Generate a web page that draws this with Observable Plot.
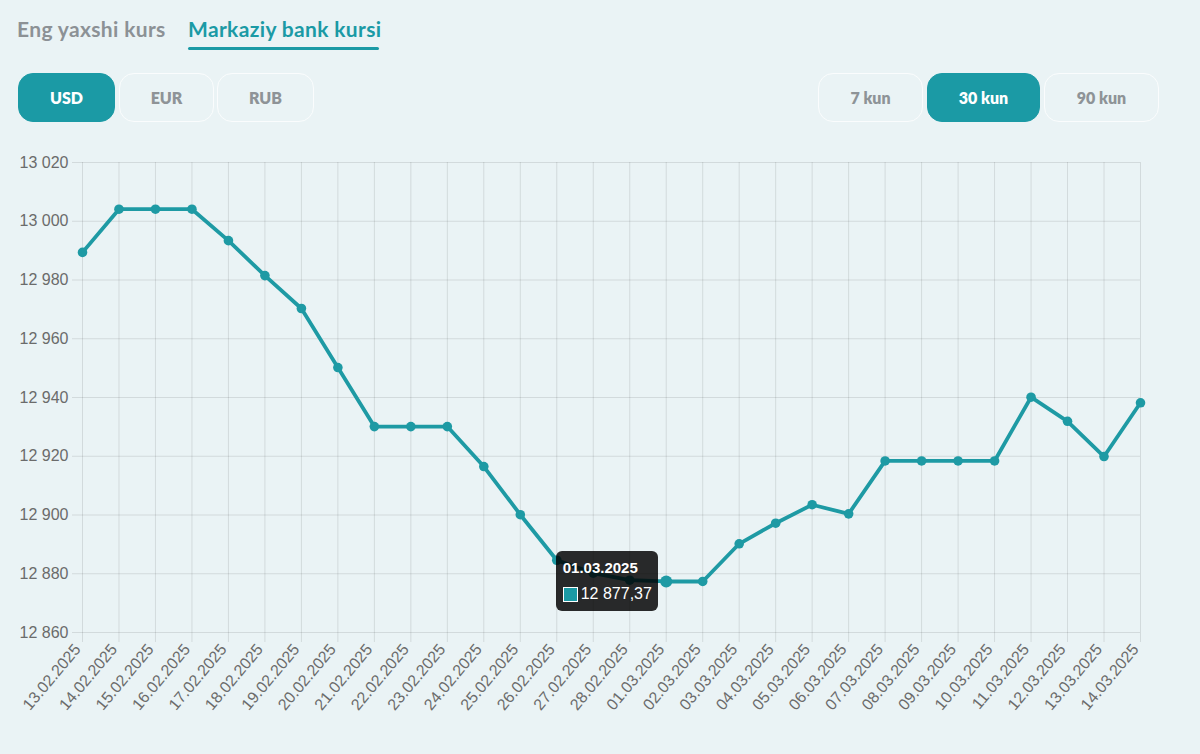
<!DOCTYPE html>
<html><head><meta charset="utf-8">
<script src="https://cdn.jsdelivr.net/npm/d3@7"></script>
<script src="https://cdn.jsdelivr.net/npm/@observablehq/plot@0.6"></script>
<style>
html,body{margin:0;padding:0}
body{background:#eaf3f5;width:1200px;height:754px;position:relative;overflow:hidden;font-family:Lato,"Open Sans",sans-serif}
.tab{position:absolute;top:16px;font-size:21px;font-weight:700;letter-spacing:0.35px}
.btn{position:absolute;top:73px;height:49px;box-sizing:border-box;border-radius:15px;display:flex;align-items:center;justify-content:center;font-size:16px;font-weight:800;color:#8e9397;border:1.5px solid rgba(255,255,255,0.75)}
.btn.on{background:#1b9aa5;color:#fff;border-color:#1b9aa5}
#chart{position:absolute;left:0;top:140px}
#tip{position:absolute;background:rgba(0,0,0,0.83);border-radius:6px;color:#fff;font-family:"Liberation Sans",Arial,sans-serif;box-sizing:border-box}
#tip .t{position:absolute;left:7px;top:8px;font-size:15px;font-weight:700}
#tip .sw{position:absolute;left:7px;top:36px;width:13px;height:13px;background:#1b9aa5;border:1px solid #fff}
#tip .v{position:absolute;left:25px;top:34px;font-size:16px}
</style></head><body>
<div class="tab" style="left:17px;color:#8c9195">Eng yaxshi kurs</div>
<div class="tab" style="left:188px;color:#1b9aa5">Markaziy bank kursi</div>
<div style="position:absolute;left:188px;top:47px;width:191px;height:3px;background:#1b9aa5;border-radius:2px"></div>
<div id="buttons"></div>
<div id="chart"></div>
<script>
const currencies = ["USD", "EUR", "RUB"];
const periods = ["7 kun", "30 kun", "90 kun"];
const dates = ["13.02.2025","14.02.2025","15.02.2025","16.02.2025","17.02.2025","18.02.2025","19.02.2025","20.02.2025","21.02.2025","22.02.2025","23.02.2025","24.02.2025","25.02.2025","26.02.2025","27.02.2025","28.02.2025","01.03.2025","02.03.2025","03.03.2025","04.03.2025","05.03.2025","06.03.2025","07.03.2025","08.03.2025","09.03.2025","10.03.2025","11.03.2025","12.03.2025","13.03.2025","14.03.2025"];
const rates = [12989.4,13004.1,13004.1,13004.1,12993.4,12981.5,12970.3,12950.2,12930.1,12930.1,12930.1,12916.5,12900.1,12884.6,12880.2,12877.8,12877.37,12877.37,12890.2,12897.2,12903.5,12900.4,12918.4,12918.4,12918.4,12918.4,12940.1,12931.9,12919.9,12938.2];
const yTicks = [12860,12880,12900,12920,12940,12960,12980,13000,13020];
const activeDate = "01.03.2025";

const data = dates.map((d, i) => ({i, date: d, rate: rates[i]}));
const active = data.filter(d => d.date === activeDate);
const xTicks = data.map(d => d.i);
const loc = d3.formatLocale({thousands: "\u00a0", grouping: [3], decimal: ",", currency: ["", ""]});
const yfmt = loc.format(",");
const vfmt = loc.format(",.2f");

// buttons
const bwrap = document.getElementById("buttons");
const cBoxes = [[18, 97], [119, 95], [217, 97]];
currencies.forEach((c, i) => {
  const b = document.createElement("div");
  b.className = "btn" + (c === "USD" ? " on" : "");
  b.style.left = cBoxes[i][0] + "px"; b.style.width = cBoxes[i][1] + "px";
  b.textContent = c; bwrap.appendChild(b);
});
const pBoxes = [[818, 105], [927, 113], [1044, 115]];
periods.forEach((p, i) => {
  const b = document.createElement("div");
  b.className = "btn" + (p === "30 kun" ? " on" : "");
  b.style.left = pBoxes[i][0] + "px"; b.style.width = pBoxes[i][1] + "px";
  b.textContent = p; bwrap.appendChild(b);
});

const teal = "#1e9aa4";
const chart = Plot.plot({
  width: 1200, height: 614,
  marginTop: 22, marginBottom: 122, marginLeft: 82, marginRight: 60,
  style: {background: "transparent", fontFamily: "'Liberation Sans', Arial, sans-serif", fontSize: "16px", color: "#6b6b6b"},
  x: {domain: [0, dates.length - 1]},
  y: {domain: [12860, 13020]},
  marks: [
    Plot.gridX(xTicks, {stroke: "#000", strokeOpacity: 0.1, strokeWidth: 1}),
    Plot.gridY(yTicks, {stroke: "#000", strokeOpacity: 0.1, strokeWidth: 1}),
    Plot.axisX({ticks: xTicks, tickSize: 10, stroke: "#000", strokeOpacity: 0.1, fill: "none", label: null}),
    Plot.axisX({ticks: xTicks, tickFormat: i => dates[i], tickSize: 10, tickPadding: 4, tickRotate: -50, dx: -5, stroke: "none", fill: "#6b6b6b", label: null}),
    Plot.axisY({ticks: yTicks, tickSize: 10, tickPadding: 4, tickFormat: yfmt, stroke: "#000", strokeOpacity: 0.1, fill: "#6b6b6b", label: null}),
    Plot.line(data, {x: "i", y: "rate", stroke: teal, strokeWidth: 3.8, strokeLinejoin: "round"}),
    Plot.dot(data, {x: "i", y: "rate", r: 4.8, fill: teal}),
    Plot.dot(active, {x: "i", y: "rate", r: 6, fill: teal})
  ]
});
document.getElementById("chart").appendChild(chart);

// tooltip anchored at the active point
const px = chart.scale("x").apply(active[0].i);
const py = chart.scale("y").apply(active[0].rate) + 140;
const tip = document.createElement("div");
tip.id = "tip";
const tw = 102, th = 60;
tip.style.left = (px - 8 - tw) + "px";
tip.style.top = (py - th / 2) + "px";
tip.style.width = tw + "px"; tip.style.height = th + "px";
tip.innerHTML = `<div class="t">${activeDate}</div><div class="sw"></div><div class="v">${vfmt(active[0].rate)}</div>`;
document.body.appendChild(tip);
</script>
</body></html>
